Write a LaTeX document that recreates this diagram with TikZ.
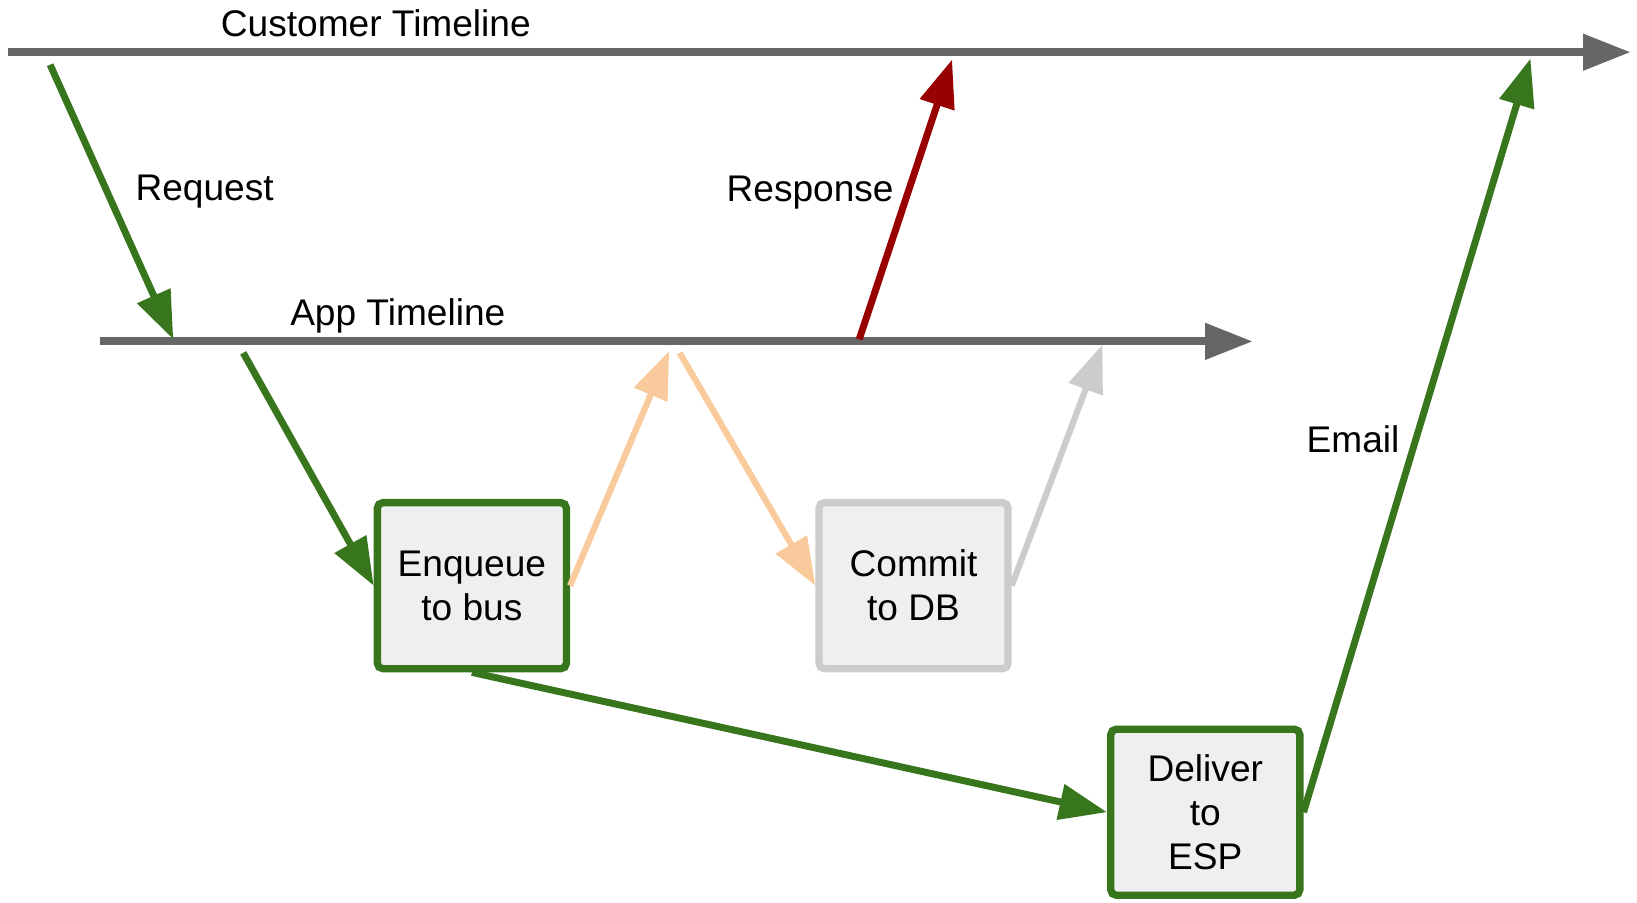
\documentclass[tikz,border=0pt]{standalone}
\usepackage{fontspec}
\setmainfont{Liberation Sans}
\usepackage{xcolor}
\usetikzlibrary{arrows.meta,positioning}

\definecolor{flowgreen}{HTML}{38761D}
\definecolor{linegray}{HTML}{666666}
\definecolor{respred}{HTML}{990000}
\definecolor{busorange}{HTML}{F9CB9C}
\definecolor{dbgray}{HTML}{CCCCCC}
\definecolor{boxfill}{HTML}{EFEFEF}

\begin{document}
\begin{tikzpicture}[x=0.01cm,y=-0.01cm,>={Triangle[length=13pt,width=9.5pt]},
  every node/.style={font=\fontsize{10.1}{12}\selectfont},
  timeline/.style={->,line width=2.2pt,linegray},
  flow/.style={->,line width=1.9pt,flowgreen},
  side/.style={->,line width=1.7pt},
  task/.style={draw,line width=2pt,fill=boxfill,rounded corners=1.5pt,
    minimum width=1.81cm,minimum height=1.59cm,align=center,inner sep=0pt},
  lbl/.style={anchor=base}]
  \useasboundingbox (0,0) rectangle (1568,864);

  % the two timelines
  \coordinate (custL) at (8,50);
  \coordinate (custR) at (1562,50);
  \coordinate (appL) at (96,327);
  \coordinate (appR) at (1200,327);
  \draw[timeline] (custL) -- (custR);
  \draw[timeline] (appL) -- (appR);
  \node[lbl] (custlbl) at (360,35) {Customer Timeline};
  \node[lbl] (applbl) at (381,312) {App Timeline};

  % points where the arrows meet the timelines
  \coordinate (reqStart) at (48,62);
  \coordinate (reqEnd) at (166,325);
  \coordinate (enqStart) at (233,338);
  \coordinate (busEnd) at (641,336);
  \coordinate (busStart) at (651,338);
  \coordinate (dbEnd) at (1056,330);
  \coordinate (respStart) at (823,325);
  \coordinate (respEnd) at (912,57);
  \coordinate (mailEnd) at (1466,56);

  % steps
  \node[task,draw=flowgreen] (enqueue) at (452,561) {Enqueue\\to bus};
  \node[task,draw=dbgray] (commit) at (875,561) {Commit\\to DB};
  \node[task,draw=flowgreen] (deliver) at (1154.5,778) {Deliver\\to\\ESP};

  % arrows
  \draw[flow] (reqStart) -- (reqEnd);
  \node[lbl] (reqlbl) at (196,192) {Request};
  \draw[flow] (enqStart) -- (enqueue.west);
  \draw[side,busorange] (enqueue.east) -- (busEnd);
  \draw[side,busorange] (busStart) -- (commit.west);
  \draw[side,dbgray] (commit.east) -- (dbEnd);
  \draw[flow,respred] (respStart) -- (respEnd);
  \node[lbl] (resplbl) at (776,193) {Response};
  \draw[flow] (enqueue.south) -- (deliver.west);
  \draw[flow] (deliver.east) -- (mailEnd);
  \node[lbl] (maillbl) at (1296,433) {Email};
\end{tikzpicture}
\end{document}
